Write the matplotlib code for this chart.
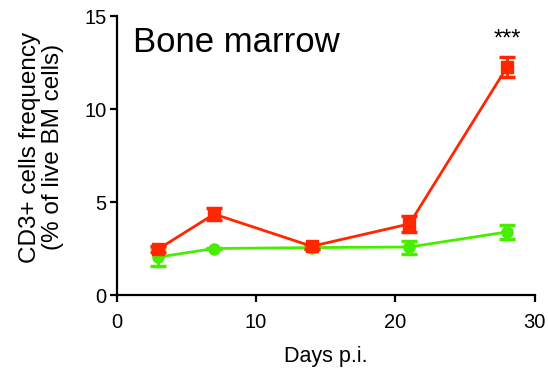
import matplotlib
matplotlib.use("Agg")
import matplotlib.pyplot as plt

plt.rcParams['font.family'] = ['Liberation Sans', 'DejaVu Sans']

days = [3, 7, 14, 21, 28]
red_mean = [2.47, 4.35, 2.62, 3.82, 12.25]
red_err = [0.15, 0.33, 0.12, 0.43, 0.55]
green_mean = [2.04, 2.5, 2.55, 2.58, 3.39]
green_err = [0.5, 0.05, 0.05, 0.35, 0.38]
xticks = [0, 10, 20, 30]
yticks = [0, 5, 10, 15]

RED = '#FF2600'
GREEN = '#48EE00'

fig = plt.figure(figsize=(5.48, 3.74), dpi=100)
ax = fig.add_axes([0.2126, 0.2112, 0.7634, 0.7460])

ax.errorbar(days, green_mean, yerr=green_err, color=GREEN, marker='o',
            markersize=8, linewidth=2.0, elinewidth=2.0, capsize=6,
            capthick=2.5, zorder=3)
ax.errorbar(days, red_mean, yerr=red_err, color=RED, marker='s',
            markersize=8, linewidth=2.0, elinewidth=2.0, capsize=6,
            capthick=2.5, zorder=4)

ax.set_xlim(0, 30)
ax.set_ylim(0, 15)
ax.set_xticks(xticks)
ax.set_yticks(yticks)
for s in ['top', 'right']:
    ax.spines[s].set_visible(False)
for s in ['left', 'bottom']:
    ax.spines[s].set_linewidth(1.6)
ax.tick_params(axis='both', direction='out', length=5, width=1.6,
               labelsize=14.5)
ax.tick_params(axis='x', pad=8)
ax.tick_params(axis='y', pad=2)

ax.set_xlabel('Days p.i.', fontsize=15.5, labelpad=10)
ax.set_ylabel('CD3+ cells frequency\n(% of live BM cells)', fontsize=17.5,
              linespacing=1.1)
ax.yaxis.set_label_coords(-0.125, 0.53)

ax.text(1.2, 13.06, 'Bone marrow', fontsize=25, ha='left', va='baseline')
ax.text(28, 13.4, '***', fontsize=17, ha='center', va='baseline')

fig.savefig('out.png', dpi=100)
